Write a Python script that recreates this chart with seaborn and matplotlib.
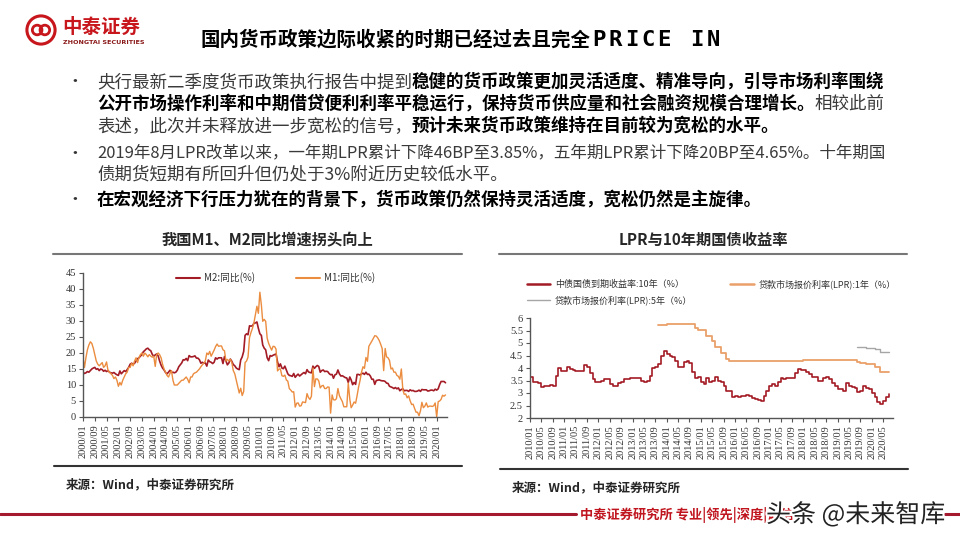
import numpy as np
import pandas as pd
import seaborn as sns
import matplotlib.pyplot as plt
import matplotlib.patheffects as pe
from matplotlib.lines import Line2D
from matplotlib.patches import Circle
from matplotlib.ticker import FuncFormatter

# ---- data ----
# M2 / M1 yoy, monthly 2000/01 - 2020/07
m2_yoy = [
    14.0, 13.6, 13.8, 14.2, 14.0, 14.5, 15.0, 15.3, 15.5, 14.9, 15.1, 14.5,
    15.0, 14.8, 14.3, 14.6, 14.2, 14.5, 14.0, 13.8, 13.7, 13.9, 13.5, 13.2,
    13.0, 14.4, 13.5, 14.0, 14.5, 14.2, 14.8, 15.5, 16.5, 16.8, 16.5, 16.8,
    17.5, 18.2, 18.5, 19.0, 19.5, 20.4, 20.8, 21.3, 21.5, 21.0, 20.7, 19.6,
    19.0, 19.4, 19.7, 19.1, 17.5, 16.2, 15.3, 14.7, 13.9, 13.5, 14.0, 14.6,
    13.9, 14.0, 13.8, 14.0, 14.6, 15.7, 16.3, 16.9, 17.9, 17.8, 18.3, 17.6,
    19.2, 18.8, 18.8, 18.9, 19.1, 18.4, 18.4, 17.9, 16.8, 17.1, 16.8, 16.9,
    15.9, 17.8, 17.3, 17.1, 16.7, 17.1, 18.5, 18.1, 18.5, 18.5, 18.5, 16.7,
    18.9, 17.5, 16.3, 16.9, 18.1, 17.4, 16.4, 16.0, 15.3, 15.0, 14.8, 17.8,
    18.8, 20.5, 25.5, 26.0, 25.7, 28.5, 28.4, 28.5, 29.3, 29.4, 29.7, 27.7,
    26.0, 25.5, 22.5, 21.5, 21.0, 18.5, 17.6, 19.2, 19.0, 19.3, 19.5, 19.7,
    17.2, 15.7, 16.6, 15.3, 15.1, 15.9, 14.7, 13.5, 13.0, 12.9, 12.7, 13.6,
    12.4, 13.0, 13.4, 12.8, 13.2, 13.6, 13.9, 13.5, 14.8, 14.1, 13.9, 13.8,
    15.9, 15.2, 15.7, 16.1, 15.8, 14.0, 14.5, 14.7, 14.2, 14.3, 14.2, 13.6,
    13.2, 13.3, 12.1, 13.2, 13.4, 14.7, 13.5, 12.8, 12.9, 12.6, 12.3, 12.2,
    10.8, 12.5, 11.6, 10.1, 10.8, 10.2, 13.3, 13.3, 13.1, 13.5, 13.7, 13.3,
    14.0, 13.3, 13.4, 12.8, 11.8, 11.8, 10.2, 11.4, 11.5, 11.6, 11.4, 11.3,
    11.3, 11.1, 10.6, 10.5, 9.6, 9.4, 9.2, 8.9, 9.2, 8.8, 9.1, 8.2,
    8.6, 8.8, 8.2, 8.3, 8.3, 8.0, 8.5, 8.2, 8.3, 8.0, 8.0, 8.1,
    8.4, 8.0, 8.6, 8.5, 8.5, 8.5, 8.1, 8.2, 8.4, 8.4, 8.2, 8.7,
    8.4, 8.8, 10.1, 11.1, 11.1, 11.1, 10.7,
]
m1_yoy = [
    18.5, 15.5, 18.5, 21.0, 22.5, 23.5, 23.0, 21.5, 19.5, 17.5, 16.5, 16.0,
    16.5, 17.0, 15.5, 16.0, 17.2, 14.5, 14.0, 13.5, 13.0, 12.0, 12.5, 11.5,
    9.6, 10.8, 10.0, 11.5, 12.5, 13.5, 14.0, 15.5, 15.5, 16.8, 16.0, 17.5,
    18.5, 17.0, 18.5, 19.5, 20.0, 19.0, 20.0, 19.5, 18.8, 19.5, 19.0, 18.7,
    19.0, 15.8, 19.5, 20.0, 19.5, 18.5, 16.5, 15.0, 14.0, 13.0, 12.5, 13.6,
    14.5, 11.5, 10.0, 10.0, 10.0, 10.5, 11.0, 11.5, 11.5, 12.0, 12.5, 11.8,
    10.7, 12.5, 12.5, 13.5, 13.8, 14.0, 14.5, 15.0, 15.7, 16.3, 16.8, 17.5,
    20.0, 19.5, 20.5, 19.0, 19.9, 20.9, 22.0, 22.8, 22.1, 22.2, 22.2, 21.0,
    20.7, 17.5, 18.0, 17.5, 18.0, 17.0, 14.5, 13.5, 11.5, 9.5, 7.5, 9.0,
    6.7, 8.0, 17.0, 17.5, 18.7, 24.8, 26.4, 27.7, 29.5, 32.0, 34.6, 32.4,
    39.0, 35.0, 29.9, 30.5, 29.9, 24.6, 23.0, 21.9, 20.9, 22.1, 22.0, 21.2,
    14.4, 15.0, 15.0, 12.9, 12.7, 13.1, 11.6, 11.2, 8.9, 8.4, 7.8, 7.9,
    3.1, 4.3, 4.4, 3.4, 3.5, 4.7, 4.6, 4.5, 7.3, 6.1, 5.5, 6.5,
    15.3, 9.5, 11.9, 11.9, 11.3, 9.1, 9.7, 9.9, 8.9, 8.9, 9.4, 9.3,
    1.2, 6.9, 5.4, 5.3, 5.7, 8.9, 6.7, 5.7, 4.8, 3.2, 3.2, 3.2,
    10.6, 5.6, 2.9, 3.7, 4.7, 4.3, 6.6, 9.3, 11.4, 14.0, 15.7, 15.2,
    18.6, 17.4, 22.1, 22.9, 23.7, 24.6, 25.4, 25.3, 24.7, 23.9, 22.7, 21.4,
    14.5, 21.4, 18.8, 18.5, 17.7, 15.0, 15.3, 14.0, 14.0, 13.0, 12.7, 11.8,
    15.0, 8.5, 7.1, 7.2, 6.0, 6.6, 5.1, 3.9, 4.0, 2.7, 1.5, 1.5,
    0.4, 2.0, 4.6, 2.9, 3.4, 4.4, 3.1, 3.4, 3.4, 3.3, 3.5, 4.4,
    0.0, 4.8, 5.0, 5.5, 6.8, 6.5, 6.9,
]
# 10y CGB yield, monthly 2010/01 - 2020/07
cgb_10y = [
    3.65, 3.45, 3.45, 3.40, 3.25, 3.30, 3.28, 3.32, 3.30, 3.70, 4.00, 3.90,
    3.90, 4.05, 3.95, 3.92, 3.87, 3.90, 3.90, 4.13, 4.05, 3.80, 3.55, 3.45,
    3.45, 3.50, 3.55, 3.55, 3.35, 3.30, 3.30, 3.40, 3.45, 3.55, 3.55, 3.60,
    3.60, 3.62, 3.60, 3.50, 3.45, 3.50, 3.70, 4.00, 4.05, 4.15, 4.50, 4.70,
    4.55, 4.50, 4.45, 4.30, 4.05, 4.05, 4.25, 4.30, 4.20, 3.85, 3.60, 3.65,
    3.45, 3.35, 3.60, 3.45, 3.50, 3.65, 3.50, 3.45, 3.30, 3.10, 3.10, 2.85,
    2.87, 2.85, 2.88, 2.90, 2.93, 2.90, 2.80, 2.75, 2.72, 2.70, 2.90, 3.10,
    3.30, 3.35, 3.30, 3.45, 3.60, 3.55, 3.60, 3.62, 3.62, 3.80, 3.95, 3.92,
    3.93, 3.85, 3.75, 3.65, 3.65, 3.50, 3.50, 3.60, 3.65, 3.55, 3.40, 3.30,
    3.15, 3.15, 3.10, 3.40, 3.30, 3.25, 3.20, 3.05, 3.10, 3.30, 3.20, 3.15,
    3.00, 2.85, 2.65, 2.55, 2.70, 2.85, 2.95,
]
# 1y LPR, monthly 2013/10 - 2020/07
lpr_1y = [
    5.71, 5.72, 5.73,
    5.77, 5.77, 5.77, 5.77, 5.77, 5.77, 5.77, 5.77, 5.77, 5.77, 5.60, 5.51,
    5.51, 5.51, 5.30, 5.30, 5.10, 4.85, 4.85, 4.60, 4.60, 4.35, 4.30, 4.30,
    4.30, 4.30, 4.30, 4.30, 4.30, 4.30, 4.30, 4.30, 4.30, 4.30, 4.30, 4.30,
    4.30, 4.30, 4.30, 4.30, 4.30, 4.30, 4.30, 4.30, 4.30, 4.30, 4.30, 4.30,
    4.31, 4.31, 4.31, 4.31, 4.31, 4.31, 4.31, 4.31, 4.31, 4.31, 4.31, 4.31,
    4.31, 4.31, 4.31, 4.31, 4.31, 4.31, 4.31, 4.25, 4.20, 4.20, 4.15, 4.15,
    4.15, 4.05, 4.05, 3.85, 3.85, 3.85, 3.85,
]
# 5y LPR, monthly 2019/08 - 2020/07
lpr_5y = [4.85, 4.85, 4.85, 4.80, 4.80, 4.80, 4.75, 4.75, 4.65, 4.65, 4.65, 4.65]

money_dates = pd.date_range('2000-01-01', periods=len(m2_yoy), freq='MS')
cgb_dates = pd.date_range('2010-01-01', periods=len(cgb_10y), freq='MS')
lpr1_dates = pd.date_range('2013-10-01', periods=len(lpr_1y), freq='MS')
lpr5_dates = pd.date_range('2019-08-01', periods=len(lpr_5y), freq='MS')

left_ticks = pd.date_range('2000-01-01', '2020-01-01', freq='8MS')
right_ticks = pd.date_range('2010-01-01', '2020-05-01', freq='4MS')

bullet_lines = [
    (82, [('央行最新二季度货币政策执行报告中提到', False),
          ('稳健的货币政策更加灵活适度、精准导向，引导市场利率围绕', True)]),
    (104, [('公开市场操作利率和中期借贷便利利率平稳运行，保持货币供应量和社会融资规模合理增长。', True),
           ('相较此前', False)]),
    (126, [('表述，此次并未释放进一步宽松的信号，', False),
           ('预计未来货币政策维持在目前较为宽松的水平。', True)]),
    (153, [('2019年8月LPR改革以来，一年期LPR累计下降46BP至3.85%，五年期LPR累计下降20BP至4.65%。十年期国', False)]),
    (174, [('债期货短期有所回升但仍处于3%附近历史较低水平。', False)]),
    (200, [('在宏观经济下行压力犹在的背景下，货币政策仍然保持灵活适度，宽松仍然是主旋律。', True)]),
]
bullet_rows = [82, 153, 200]

# ---- style ----
sns.set_theme(style='ticks')
plt.rcParams['font.family'] = ['Noto Sans CJK SC', 'DejaVu Sans']
plt.rcParams['axes.unicode_minus'] = False

W, H = 960, 540
def fx(px):
    return px / W
def fy(py):
    return 1 - py / H

RED = '#c8161d'
DARKRED = '#a31b25'
ORANGE = '#eb8c3f'
LPR_ORANGE = '#eba06a'
GREY = '#a6a6a6'
SERIF = 'Liberation Serif'

fig = plt.figure(figsize=(9.6, 5.4), dpi=100)
renderer = fig.canvas.get_renderer()

# ---- header: logo + title ----
logo = fig.add_axes([fx(25), fy(46), 32 / W, 32 / H])
logo.set_xlim(0, 1)
logo.set_ylim(0, 1)
logo.axis('off')
logo.add_patch(Circle((0.5, 0.5), 0.44, fill=False, ec=RED, lw=2.2))
logo.add_patch(Circle((0.38, 0.5), 0.15, fill=False, ec=RED, lw=2.0))
logo.add_patch(Circle((0.62, 0.5), 0.15, fill=False, ec=RED, lw=2.0))
fig.text(fx(62), fy(27), '中泰证券', fontsize=14, fontweight='bold', color=RED, va='center')
fig.text(fx(63), fy(43), 'ZHONGTAI SECURITIES', fontsize=4.6, fontweight='bold',
         color='#8b1a1a', va='center', family='DejaVu Sans')
title = fig.text(fx(200), fy(40), '国内货币政策边际收紧的时期已经过去且完全',
                 fontsize=14, fontweight='bold', color='black', va='center')
tx = fx(200) + title.get_window_extent(renderer=renderer).width / W
for i, ch in enumerate('PRICE IN'):
    fig.text(tx + fx(2 + 16.4 * i), fy(40), ch, fontsize=16, fontweight='bold',
             color='black', va='center', family='DejaVu Sans Mono')

# ---- bullet text ----
for y in bullet_rows:
    fig.text(fx(66), fy(y), '•', fontsize=12, color='#333333', va='center')
for y, parts in bullet_lines:
    x = fx(97)
    for text, bold in parts:
        t = fig.text(x, fy(y), text, fontsize=12.6,
                     fontweight='bold' if bold else 'normal',
                     color='black' if bold else '#3a3a3a', va='center', ha='left')
        w = t.get_window_extent(renderer=renderer).width
        if len(parts) == 1 and w > 792:
            t.set_fontsize(12.6 * 790 / w)
            w = t.get_window_extent(renderer=renderer).width
        x += w / W

# ---- chart titles + frame lines ----
fig.text(fx(267), fy(240), '我国M1、M2同比增速拐头向上', fontsize=11, fontweight='bold', ha='center', va='center')
fig.text(fx(703), fy(240), 'LPR与10年期国债收益率', fontsize=11, fontweight='bold', ha='center', va='center')
for x0, x1, y, c in [(53, 462, 254, '#777777'), (499, 907, 254, '#777777'),
                     (54, 462, 466, '#333333'), (500, 908, 469, '#333333')]:
    fig.add_artist(Line2D([fx(x0), fx(x1)], [fy(y), fy(y)], transform=fig.transFigure, color=c, lw=1.5))
fig.text(fx(66), fy(485), '来源：Wind，中泰证券研究所', fontsize=9, fontweight='bold', va='center')
fig.text(fx(512), fy(488), '来源：Wind，中泰证券研究所', fontsize=9, fontweight='bold', va='center')

def style_axis(ax):
    sns.despine(ax=ax)
    for s in ['left', 'bottom']:
        ax.spines[s].set_color('#555555')
        ax.spines[s].set_linewidth(1.0)
    ax.tick_params(axis='both', length=3, width=0.8, color='#555555', pad=2)
    for lab in ax.get_xticklabels() + ax.get_yticklabels():
        lab.set_fontfamily(SERIF)
        lab.set_fontsize(7.5)
        lab.set_color('#333333')
    ax.set_xlabel('')
    ax.set_ylabel('')

# ---- left chart: M1 / M2 ----
ax1 = fig.add_axes([fx(83), fy(417), (447 - 83) / W, (417 - 273) / H])
sns.lineplot(x=money_dates, y=m2_yoy, ax=ax1, color=DARKRED, lw=1.2)
sns.lineplot(x=money_dates, y=m1_yoy, ax=ax1, color=ORANGE, lw=1.0)
ax1.set_xlim(pd.Timestamp('2000-01-01'), pd.Timestamp('2020-08-01'))
ax1.set_ylim(0, 45)
ax1.set_yticks(np.arange(0, 46, 5))
ax1.set_xticks(left_ticks)
ax1.set_xticklabels([d.strftime('%Y/%m') for d in left_ticks], rotation=90)
style_axis(ax1)
h1 = [Line2D([], [], color=DARKRED, lw=1.5), Line2D([], [], color=ORANGE, lw=1.5)]
ax1.legend(h1, ['M2:同比(%)', 'M1:同比(%)'], loc='center left',
           bbox_to_anchor=(fx(176), fy(278)), bbox_transform=fig.transFigure,
           ncol=2, frameon=False, fontsize=7, handlelength=2.5, handletextpad=0.4,
           columnspacing=4.2, borderpad=0, borderaxespad=0, labelcolor='#333333')

# ---- right chart: LPR + 10y ----
ax2 = fig.add_axes([fx(530), fy(418), (893 - 530) / W, (418 - 318) / H])
sns.lineplot(x=cgb_dates, y=cgb_10y, ax=ax2, color=DARKRED, lw=1.2, drawstyle='steps-post')
sns.lineplot(x=lpr1_dates, y=lpr_1y, ax=ax2, color=LPR_ORANGE, lw=1.3, drawstyle='steps-post')
sns.lineplot(x=lpr5_dates, y=lpr_5y, ax=ax2, color=GREY, lw=1.0, drawstyle='steps-post')
ax2.set_xlim(pd.Timestamp('2010-01-01'), pd.Timestamp('2020-08-15'))
ax2.set_ylim(2, 6)
ax2.set_yticks(np.arange(2, 6.01, 0.5))
ax2.yaxis.set_major_formatter(FuncFormatter(lambda v, p: f'{v:g}'))
ax2.set_xticks(right_ticks)
ax2.set_xticklabels([d.strftime('%Y/%m') for d in right_ticks], rotation=90)
style_axis(ax2)
h2 = [Line2D([], [], color=DARKRED, lw=1.8), Line2D([], [], color=GREY, lw=1.0),
      Line2D([], [], color=LPR_ORANGE, lw=1.8)]
ax2.legend(h2, ['中债国债到期收益率:10年（%）', '贷款市场报价利率(LPR):5年（%）',
                '贷款市场报价利率(LPR):1年（%）'], loc='upper left',
           bbox_to_anchor=(fx(527), fy(279)), bbox_transform=fig.transFigure,
           ncol=2, frameon=False, fontsize=6.5, handlelength=2.6, handletextpad=0.5,
           columnspacing=4.2, labelspacing=0.7, borderpad=0, borderaxespad=0,
           labelcolor='#333333')

# ---- footer ----
fig.add_artist(Line2D([0, fx(576)], [fy(514), fy(514)], transform=fig.transFigure, color='#a5192e', lw=2.2))
fig.add_artist(Line2D([fx(945), 1], [fy(514), fy(514)], transform=fig.transFigure, color='#a5192e', lw=2.2))
fig.text(fx(580), fy(515), '中泰证券研究所 专业|领先|深度|诚信', fontsize=9.5, fontweight='bold',
         color='#c0141e', va='center')
fig.text(fx(766), fy(515), '头条 @未来智库', fontsize=18, color='#222222', va='center',
         path_effects=[pe.withStroke(linewidth=3, foreground='white')])

fig.savefig('out.png', dpi=100)
